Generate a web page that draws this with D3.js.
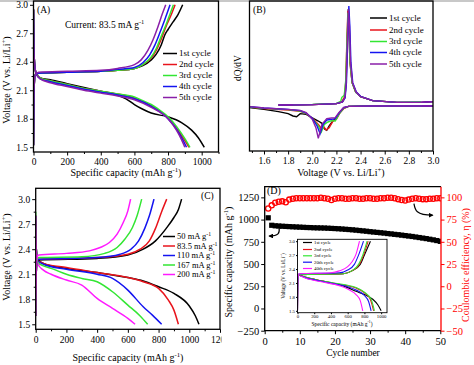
<!DOCTYPE html>
<html><head><meta charset="utf-8">
<script src="https://cdn.jsdelivr.net/npm/d3@7"></script>
<style>body{margin:0;background:#fff}svg{display:block}text{font-family:"Liberation Serif","Times New Roman",serif}</style>
</head><body><svg id="c" width="474" height="365"></svg>
<script>
// ---------------- DATA ----------------
// Panel A: galvanostatic profiles, 83.5 mA g-1, cycles 1-5  [capacity mAh/g, voltage V]
const cyclesA = ["1st cycle","2nd cycle","3rd cycle","4th cycle","5th cycle"];
const dischargeA = [
  [[0,2.95],[4,2.45],[15,2.28],[40,2.23],[100,2.21],[200,2.17],[300,2.13],[400,2.09],[500,2.05],[550,2.01],[600,1.95],[650,1.9],[700,1.86],[800,1.82],[880,1.76],[940,1.68],[980,1.6],[1015,1.5]],
  [[0,2.95],[4,2.45],[15,2.28],[40,2.23],[100,2.2],[200,2.16],[300,2.12],[400,2.09],[500,2.06],[600,2.02],[650,1.98],[700,1.94],[750,1.88],[800,1.81],[850,1.7],[900,1.57],[925,1.5]],
  [[0,2.95],[4,2.45],[15,2.28],[40,2.23],[100,2.2],[200,2.16],[300,2.12],[400,2.09],[500,2.06],[600,2.03],[650,1.99],[700,1.95],[750,1.89],[800,1.82],[850,1.72],[900,1.59],[930,1.5]],
  [[0,2.95],[4,2.45],[15,2.28],[40,2.22],[100,2.19],[200,2.15],[300,2.11],[400,2.08],[500,2.05],[600,2.01],[700,1.93],[800,1.8],[850,1.69],[890,1.57],[910,1.5]],
  [[0,2.95],[4,2.45],[15,2.28],[40,2.22],[100,2.18],[200,2.14],[300,2.1],[400,2.07],[500,2.04],[600,2.0],[700,1.92],[800,1.8],[850,1.68],[880,1.58],[900,1.5]]
];
const chargeA = [
  [[0,1.52],[3,2.1],[10,2.26],[30,2.28],[200,2.29],[400,2.3],[500,2.31],[600,2.33],[650,2.36],[700,2.42],[730,2.48],[760,2.58],[780,2.68],[800,2.74],[830,2.82],[860,2.9],[887,3.0]],
  [[0,1.52],[3,2.1],[10,2.26],[30,2.28],[200,2.29],[400,2.3],[500,2.31],[600,2.33],[650,2.37],[700,2.44],[730,2.52],[760,2.64],[790,2.78],[820,2.9],[842,3.0]],
  [[0,1.52],[3,2.1],[10,2.26],[30,2.28],[200,2.29],[400,2.3],[500,2.31],[600,2.33],[650,2.37],[700,2.45],[730,2.54],[760,2.67],[790,2.8],[815,2.92],[832,3.0]],
  [[0,1.52],[3,2.1],[10,2.26],[30,2.28],[200,2.29],[400,2.3],[500,2.32],[600,2.34],[650,2.39],[690,2.47],[720,2.57],[750,2.7],[780,2.84],[812,3.0]],
  [[0,1.52],[3,2.1],[10,2.26],[30,2.29],[200,2.3],[400,2.31],[500,2.33],[600,2.37],[640,2.42],[680,2.52],[710,2.63],[740,2.77],[765,2.9],[786,3.0]]
];
const xTicksA = [0,200,400,600,800,1000];
const yTicksV = [1.5,1.8,2.1,2.4,2.7,3.0];

// Panel B: dQ/dV (arbitrary units) vs voltage  [V, dQ/dV]
const cyclesB = ["1st cycle","2nd cycle","3rd cycle","4th cycle","5th cycle"];
const chargeB = [
  [[1.72,0.3],[2.0,0.4],[2.2,0.7],[2.25,1.2],[2.27,2.5],[2.28,7],[2.29,20],[2.298,29],[2.306,24],[2.315,13],[2.33,7],[2.36,4.2],[2.4,2.8],[2.5,1.6],[2.7,1.1],[2.9,1.1],[3.0,1.3]],
  [[1.72,0.3],[2.0,0.4],[2.2,0.7],[2.245,1.3],[2.265,2.6],[2.277,7],[2.287,20],[2.295,28.5],[2.303,24],[2.312,13],[2.33,7],[2.36,4.2],[2.4,2.8],[2.5,1.6],[2.7,1.1],[2.9,1.1],[3.0,1.3]],
  [[1.84,0.4],[2.0,0.5],[2.2,0.8],[2.235,1.4],[2.245,2.6],[2.265,3.2],[2.278,8],[2.288,20],[2.296,28],[2.304,24],[2.313,13],[2.33,7],[2.36,4.2],[2.4,2.8],[2.5,1.6],[2.7,1.1],[2.9,1.2]],
  [[1.72,0.3],[2.0,0.4],[2.2,0.7],[2.25,1.2],[2.272,2.5],[2.283,7],[2.294,20],[2.303,30],[2.311,24],[2.32,13],[2.335,7],[2.365,4.2],[2.4,2.9],[2.5,1.6],[2.7,1.1],[2.9,1.1],[3.0,1.3]],
  [[1.72,0.3],[2.0,0.4],[2.2,0.7],[2.25,1.2],[2.27,2.5],[2.281,7],[2.291,20],[2.3,29],[2.308,24],[2.317,13],[2.333,7],[2.363,4.2],[2.4,2.8],[2.5,1.6],[2.7,1.1],[2.9,1.1],[3.0,1.3]]
];
const dischargeB = [
  [[3.0,0],[2.5,0],[2.3,-0.1],[2.26,-0.6],[2.23,-1.8],[2.2,-3.5],[2.17,-4.5],[2.14,-6],[2.12,-7.3],[2.1,-6.8],[2.08,-5.2],[2.05,-4.5],[2.0,-3.6],[1.95,-2.5],[1.9,-2.3],[1.87,-3.2],[1.84,-3.0],[1.8,-2.3],[1.72,-1.7],[1.6,-1.0],[1.48,-0.5]],
  [[3.0,0],[2.5,0],[2.3,-0.1],[2.26,-0.8],[2.23,-2.0],[2.2,-4.0],[2.17,-4.6],[2.14,-6.5],[2.115,-7.2],[2.09,-6],[2.07,-6.5],[2.05,-5.5],[2.0,-3.6],[1.95,-2.3],[1.9,-1.6],[1.8,-1.2],[1.6,-0.8],[1.48,-0.3]],
  [[2.91,0.05],[2.5,0],[2.3,-0.1],[2.26,-0.6],[2.22,-2.5],[2.19,-4.5],[2.16,-4.4],[2.13,-4.8],[2.1,-5.5],[2.075,-7.8],[2.05,-6.0],[2.0,-3.8],[1.95,-2.2],[1.9,-1.5],[1.8,-1.1],[1.6,-0.7],[1.48,-0.3]],
  [[3.0,0],[2.5,0],[2.3,-0.1],[2.26,-0.5],[2.22,-2.2],[2.19,-3.8],[2.16,-4.0],[2.12,-4.2],[2.09,-5.5],[2.065,-8.3],[2.04,-6.0],[2.0,-3.7],[1.95,-2.1],[1.9,-1.4],[1.8,-1.0],[1.6,-0.6],[1.48,-0.2]],
  [[3.0,0],[2.5,0],[2.3,-0.1],[2.26,-0.4],[2.22,-2.0],[2.19,-3.5],[2.16,-3.6],[2.12,-3.8],[2.08,-5.5],[2.05,-9.7],[2.03,-6.5],[2.0,-4.0],[1.95,-2.0],[1.9,-1.3],[1.8,-1.0],[1.6,-0.6],[1.48,-0.2]]
];
const xTicksB = [1.6,1.8,2.0,2.2,2.4,2.6,2.8,3.0];

// Panel C: rate profiles  [capacity, voltage]
const ratesC = ["50","83.5","110","167","200"];
const dischargeC = [
  [[0,2.8],[4,2.4],[15,2.27],[50,2.23],[200,2.17],[400,2.12],[600,2.06],[700,2.02],[800,1.95],[900,1.87],[1000,1.72],[1040,1.6],[1063,1.5]],
  [[0,2.8],[4,2.4],[15,2.27],[50,2.23],[200,2.18],[400,2.12],[600,2.06],[700,2.01],[800,1.93],[864,1.79],[900,1.67],[929,1.5]],
  [[0,2.8],[4,2.4],[15,2.26],[50,2.22],[200,2.16],[400,2.1],[500,2.05],[600,1.91],[700,1.71],[760,1.61],[820,1.5]],
  [[0,2.85],[4,2.4],[15,2.24],[50,2.2],[100,2.17],[200,2.1],[300,2.05],[400,2.01],[500,1.89],[600,1.73],[680,1.6],[729,1.5]],
  [[0,2.8],[4,2.35],[15,2.22],[50,2.15],[100,2.1],[200,2.03],[300,1.97],[400,1.81],[500,1.69],[600,1.57],[647,1.5]]
];
const chargeC = [
  [[0,1.6],[3,2.1],[10,2.25],[20,2.27],[400,2.29],[600,2.33],[700,2.4],[780,2.5],[850,2.65],[900,2.78],[930,2.88],[950,3.0]],
  [[0,1.6],[3,2.1],[10,2.26],[20,2.28],[400,2.3],[600,2.34],[680,2.4],[740,2.5],[780,2.65],[820,2.85],[853,3.0]],
  [[0,1.6],[3,2.1],[10,2.26],[20,2.28],[400,2.3],[550,2.34],[620,2.4],[670,2.5],[710,2.65],[740,2.8],[770,3.0]],
  [[0,1.6],[3,2.1],[10,2.28],[20,2.3],[300,2.31],[450,2.35],[530,2.42],[580,2.52],[630,2.66],[660,2.8],[690,3.0]],
  [[0,1.6],[3,2.1],[10,2.31],[20,2.33],[200,2.35],[350,2.38],[420,2.42],[480,2.48],[530,2.58],[570,2.72],[600,2.86],[618,3.0]]
];
const xTicksC = [0,200,400,600,800,1000,1200];

// Panel D: cycling at 83.5 mA g-1
const cycleNo = d3.range(1, 51);
const capacityD = [1020,936,930,928,925,923,921,919,917,915,913,911,910,908,907,906,905,903,901,899,897,894,891,888,885,881,877,873,869,864,860,856,852,848,843,839,834,830,825,820,815,810,804,798,792,786,779,772,764,755];
const efficiencyD = [87.5,91,94,95,95.5,94.5,97.5,98.5,99,99,99,99,99,99,99,99.5,99,98.5,97,98.5,99,99,98.5,98.5,99,99,98.5,98.5,99,99,98.5,98.5,99,99,99.5,99.5,99,98,97,96.5,97.5,98.5,99,98.5,98,98,98.5,98.5,99,99];
const xTicksD = [0,10,20,30,40,50];
const yTicksDL = [-250,0,250,500,750,1000,1250];
const yTicksDR = [-50,-25,0,25,50,75,100];

// Inset of D: selected cycles
const cyclesIn = ["1st cycle","2nd cycle","3rd cycle","20th cycle","40th cycle"];
const dischargeIn = [
  [[0,2.28],[100,2.22],[300,2.14],[500,2.06],[600,2.0],[700,1.92],[800,1.85],[900,1.75],[960,1.63],[1000,1.5]],
  [[0,2.28],[100,2.22],[300,2.14],[500,2.07],[600,2.04],[700,1.99],[800,1.89],[870,1.75],[910,1.5]],
  [[0,2.28],[100,2.22],[300,2.14],[500,2.08],[600,2.05],[700,2.0],[800,1.9],[880,1.75],[920,1.5]],
  [[0,2.28],[100,2.21],[300,2.13],[500,2.06],[600,2.02],[700,1.95],[800,1.83],[850,1.7],[880,1.5]],
  [[0,2.28],[100,2.2],[300,2.12],[500,2.04],[600,1.97],[700,1.85],[750,1.72],[780,1.5]]
];
const chargeIn = [
  [[0,1.5],[5,2.2],[20,2.28],[550,2.3],[650,2.36],[750,2.5],[800,2.7],[872,3.0]],
  [[0,1.5],[5,2.2],[20,2.28],[550,2.3],[650,2.36],[740,2.5],[790,2.7],[845,3.0]],
  [[0,1.5],[5,2.2],[20,2.28],[550,2.3],[650,2.36],[730,2.5],[780,2.7],[832,3.0]],
  [[0,1.5],[5,2.2],[20,2.3],[500,2.32],[600,2.38],[680,2.5],[730,2.7],[789,3.0]],
  [[0,1.5],[5,2.2],[20,2.3],[400,2.32],[500,2.36],[600,2.45],[650,2.55],[700,2.72],[741,3.0]]
];
const xTicksIn = [0,200,400,600,800,1000];

// ---------------- DRAWING ----------------
const svg = d3.select("#c");
const col5 = ["#000000","#e8141c","#33e633","#1414f0","#8a1fa8"];
const colC = ["#000000","#e8141c","#1414f0","#33e633","#ff1aff"];
const colIn = ["#000000","#e8141c","#33e633","#1414f0","#ff1aff"];

// thin grey band along the top edge of the picture
svg.append("rect").attr("x", 0).attr("y", 0).attr("width", 474).attr("height", 2).attr("fill", "#c8c8c8");

let clipId = 0;
function clip(x, y) {
  const id = "cl" + (clipId++);
  svg.append("clipPath").attr("id", id).append("rect")
    .attr("x", x.range()[0]).attr("y", Math.min(...y.range()))
    .attr("width", x.range()[1] - x.range()[0]).attr("height", Math.abs(y.range()[0] - y.range()[1]));
  return "url(#" + id + ")";
}

function rich(g, str, x, y, size, opts = {}) {
  const t = g.append("text").attr("x", x).attr("y", y).attr("font-size", size)
    .attr("text-anchor", opts.anchor || "start").attr("fill", opts.fill || "#000");
  if (opts.rotate) t.attr("transform", `rotate(${opts.rotate},${x},${y})`);
  const parts = str.split(/(\^\{[^}]*\})/).filter(s => s.length);
  let sup = false;
  parts.forEach(p => {
    if (p.startsWith("^{")) {
      t.append("tspan").attr("font-size", size * 0.68).attr("dy", -size * 0.38).text(p.slice(2, -1));
      sup = true;
    } else {
      const ts = t.append("tspan").text(p);
      if (sup) { ts.attr("dy", size * 0.38); sup = false; }
    }
  });
  return t;
}

function styleAxis(g, size, color) {
  g.select(".domain").remove();
  g.selectAll("line").attr("stroke", color || "#000").attr("stroke-width", 1);
  g.selectAll("text").attr("font-size", size).attr("font-family", '"Liberation Serif",serif').attr("fill", color || "#000");
}

function frame(g, x, y, w) {
  g.append("rect").attr("x", x.range()[0]).attr("y", Math.min(...y.range()))
    .attr("width", x.range()[1] - x.range()[0]).attr("height", Math.abs(y.range()[0] - y.range()[1]))
    .attr("fill", "none").attr("stroke", "#000").attr("stroke-width", w || 1.3);
}

function bottomAxis(g, x, y, ticks, minor, size, fmt, pad) {
  const y0 = y.range()[0];
  if (minor) g.append("g").attr("transform", `translate(0,${y0})`)
    .call(d3.axisBottom(x).tickValues(minor).tickSize(2).tickFormat(""))
    .call(s => styleAxis(s, size));
  g.append("g").attr("transform", `translate(0,${y0})`)
    .call(d3.axisBottom(x).tickValues(ticks).tickSize(3.5).tickPadding(pad == null ? 2 : pad).tickFormat(fmt))
    .call(s => styleAxis(s, size));
}
function leftAxis(g, x, y, ticks, minor, size, fmt, pad) {
  const x0 = x.range()[0];
  if (minor) g.append("g").attr("transform", `translate(${x0},0)`)
    .call(d3.axisLeft(y).tickValues(minor).tickSize(2).tickFormat(""))
    .call(s => styleAxis(s, size));
  g.append("g").attr("transform", `translate(${x0},0)`)
    .call(d3.axisLeft(y).tickValues(ticks).tickSize(3.5).tickPadding(pad == null ? 2 : pad).tickFormat(fmt))
    .call(s => styleAxis(s, size));
}

function lines(g, x, y, series, colors, cp, w, curve) {
  const gen = d3.line().x(d => x(d[0])).y(d => y(d[1])).curve(curve || d3.curveMonotoneX);
  const lg = g.append("g").attr("clip-path", cp);
  series.forEach((s, i) => {
    const pts = s.slice().sort((a, b) => a[0] - b[0]);
    lg.append("path").attr("d", gen(pts)).attr("fill", "none")
      .attr("stroke", colors[i % colors.length]).attr("stroke-width", w || 1.5);
  });
}

function legend(g, labels, colors, x0, x1, ys, size, lw) {
  labels.forEach((l, i) => {
    g.append("line").attr("x1", x0).attr("x2", x1).attr("y1", ys[i]).attr("y2", ys[i])
      .attr("stroke", colors[i]).attr("stroke-width", lw || 1.5);
    rich(g, l, x1 + 2, ys[i] + size * 0.33, size);
  });
}

const fmt1 = d3.format(".1f");
const fmt0 = d3.format("d");

// ---------- Panel A ----------
{
  const g = svg.append("g");
  const x = d3.scaleLinear().domain([0, 1100]).range([33.5, 218.5]);
  const y = d3.scaleLinear().domain([1.45, 3.04]).range([152, 1]);
  const cp = clip(x, y);
  lines(g, x, y, dischargeA, col5, cp);
  lines(g, x, y, chargeA, col5, cp);
  frame(g, x, y);
  bottomAxis(g, x, y, xTicksA, [100,300,500,700,900,1100], 9.5, fmt0, 3);
  leftAxis(g, x, y, yTicksV, [1.65,1.95,2.25,2.55,2.85], 9.5, fmt1, 2);
  rich(g, "(A)", 37, 13, 9.5);
  rich(g, "Current: 83.5 mA g^{-1}", 65, 28, 9.5);
  legend(g, cyclesA, col5, 163, 177, [53.5, 64.5, 75.5, 86.5, 97.5], 9);
  rich(g, "Specific capacity (mAh g^{-1})", 126, 176, 10, {anchor: "middle"});
  rich(g, "Voltage (V vs. Li/Li^{+})", 10, 80, 10, {anchor: "middle", rotate: -90});
}

// ---------- Panel B ----------
{
  const g = svg.append("g");
  const x = d3.scaleLinear().domain([1.48, 3.0]).range([249.5, 433]);
  const y = d3.scaleLinear().domain([-13.5, 31.5]).range([151, 1]);
  const cp = clip(x, y);
  lines(g, x, y, dischargeB, col5, cp, 1.4, d3.curveLinear);
  lines(g, x, y, chargeB, col5, cp, 1.4, d3.curveLinear);
  frame(g, x, y);
  bottomAxis(g, x, y, xTicksB, [1.5,1.7,1.9,2.1,2.3,2.5,2.7,2.9], 9.5, fmt1, 3);
  rich(g, "(B)", 253, 13, 9.5);
  legend(g, cyclesB, col5, 370, 387, [18, 30, 41.5, 52.5, 64], 9);
  rich(g, "Voltage (V vs. Li/Li^{+})", 341, 176, 10, {anchor: "middle"});
  rich(g, "dQ/dV", 241, 68, 9.5, {anchor: "middle", rotate: -90});
}

// ---------- Panel C ----------
{
  const g = svg.append("g");
  const x = d3.scaleLinear().domain([0, 1200]).range([35.7, 220]);
  const y = d3.scaleLinear().domain([1.44, 3.13]).range([329.3, 188.3]);
  const cp = clip(x, y);
  lines(g, x, y, dischargeC, colC, cp);
  lines(g, x, y, chargeC, colC, cp);
  frame(g, x, y);
  const axg = g.append("g");
  svg.append("clipPath").attr("id", "cAx").append("rect").attr("x", 0).attr("y", 320).attr("width", 221.5).attr("height", 40);
  axg.attr("clip-path", "url(#cAx)");
  bottomAxis(axg, x, y, xTicksC, [100,300,500,700,900,1100], 9.5, fmt0, 3);
  leftAxis(g, x, y, yTicksV, [1.65,1.95,2.25,2.55,2.85], 9.5, fmt1, 2);
  rich(g, "(C)", 201, 199, 9.5);
  legend(g, ratesC.map(r => r + " mA g^{-1}"), colC, 163, 175, [236.5, 246, 255.5, 265, 274.5], 8.5);
  rich(g, "Specific capacity (mAh g^{-1})", 128, 361, 10, {anchor: "middle"});
  rich(g, "Voltage (V vs. Li/Li^{+})", 10, 257, 10, {anchor: "middle", rotate: -90});
}

// ---------- Panel D ----------
{
  const g = svg.append("g");
  const x = d3.scaleLinear().domain([0, 50.2]).range([264.7, 441]);
  const yL = d3.scaleLinear().domain([-250, 1370]).range([330.7, 186.7]);
  const yR = d3.scaleLinear().domain([-50, 112]).range([330.7, 186.7]);
  const cp = clip(x, yL);
  const pg = g.append("g").attr("clip-path", cp);
  // capacity squares
  pg.selectAll("rect.cap").data(capacityD).join("rect")
    .attr("x", (d, i) => x(cycleNo[i]) - 2.6).attr("y", d => yL(d) - 2.6)
    .attr("width", 5.2).attr("height", 5.2).attr("fill", "#000");
  // efficiency circles
  pg.selectAll("circle.ce").data(efficiencyD).join("circle")
    .attr("cx", (d, i) => x(cycleNo[i])).attr("cy", d => yR(d)).attr("r", 2.6)
    .attr("fill", "none").attr("stroke", "#ff0000").attr("stroke-width", 1.3);
  // frame: top/bottom/left black, right red
  const [xa, xb] = x.range(), [yb, ya] = yL.range();
  g.append("path").attr("d", `M${xb},${ya}H${xa}V${yb}H${xb}`).attr("fill", "none").attr("stroke", "#000").attr("stroke-width", 1.3);
  g.append("line").attr("x1", xb).attr("x2", xb).attr("y1", ya).attr("y2", yb).attr("stroke", "#ff0000").attr("stroke-width", 1.3);
  bottomAxis(g, x, yL, xTicksD, [5,15,25,35,45], 10.5, fmt0, 3);
  leftAxis(g, x, yL, yTicksDL, null, 10.5, fmt0, 2);
  g.append("g").attr("transform", `translate(${xb},0)`)
    .call(d3.axisRight(yR).tickValues(yTicksDR).tickSize(3.5).tickPadding(2).tickFormat(fmt0))
    .call(s => styleAxis(s, 10.5, "#ff0000"));
  rich(g, "(D)", 267, 194, 10);
  // arrows
  const defs = svg.append("defs");
  defs.append("marker").attr("id", "ah").attr("viewBox", "0 0 10 10").attr("refX", 8).attr("refY", 5)
    .attr("markerWidth", 4).attr("markerHeight", 4).attr("orient", "auto")
    .append("path").attr("d", "M0,0L10,5L0,10z").attr("fill", "#000");
  g.append("path").attr("d", `M${x(4.1)},${yL(905)}C${x(4.3)},${yL(850)} ${x(4)},${yL(815)} ${x(1.3)},${yL(815)}`)
    .attr("fill", "none").attr("stroke", "#000").attr("stroke-width", 1.2).attr("marker-end", "url(#ah)");
  g.append("path").attr("d", `M${x(42.5)},${yR(93)}C${x(42.8)},${yR(86)} ${x(43)},${yR(80)} ${x(47.8)},${yR(80)}`)
    .attr("fill", "none").attr("stroke", "#000").attr("stroke-width", 1.2).attr("marker-end", "url(#ah)");
  rich(g, "Cycle number", 353, 356, 9.5, {anchor: "middle"});
  rich(g, "Specific capacity (mAh g^{-1})", 232, 262, 10, {anchor: "middle", rotate: -90});
  rich(g, "Coulombic efficiency, η (%)", 469, 265, 10, {anchor: "middle", rotate: -90, fill: "#ff0000"});

  // inset
  const ig = g.append("g");
  const xi = d3.scaleLinear().domain([0, 1070]).range([297.5, 387]);
  const yi = d3.scaleLinear().domain([1.46, 3.04]).range([312.7, 239.3]);
  ig.append("rect").attr("x", 297.5).attr("y", 239.3).attr("width", 89.5).attr("height", 73.4).attr("fill", "#fff");
  const cpi = clip(xi, yi);
  lines(ig, xi, yi, dischargeIn, colIn, cpi, 1.1);
  lines(ig, xi, yi, chargeIn, colIn, cpi, 1.1);
  frame(ig, xi, yi, 0.9);
  const ib = ig.append("g").attr("transform", `translate(0,${yi.range()[0]})`)
    .call(d3.axisBottom(xi).tickValues(xTicksIn).tickSize(1.5).tickPadding(0.5).tickFormat(fmt0));
  styleAxis(ib, 4.8);
  const il = ig.append("g").attr("transform", `translate(${xi.range()[0]},0)`)
    .call(d3.axisLeft(yi).tickValues(yTicksV).tickSize(1.5).tickPadding(1).tickFormat(fmt1));
  styleAxis(il, 4.8);
  legend(ig, cyclesIn, colIn, 303, 312, [242.5, 249.5, 255.8, 262.2, 268.5], 4.8, 1.2);
  rich(ig, "Specific capacity (mAh g^{-1})", 342, 325.5, 5.5, {anchor: "middle"});
  rich(ig, "Voltage (V vs. Li/Li^{+})", 285, 276, 5.2, {anchor: "middle", rotate: -90});
}
</script></body></html>
